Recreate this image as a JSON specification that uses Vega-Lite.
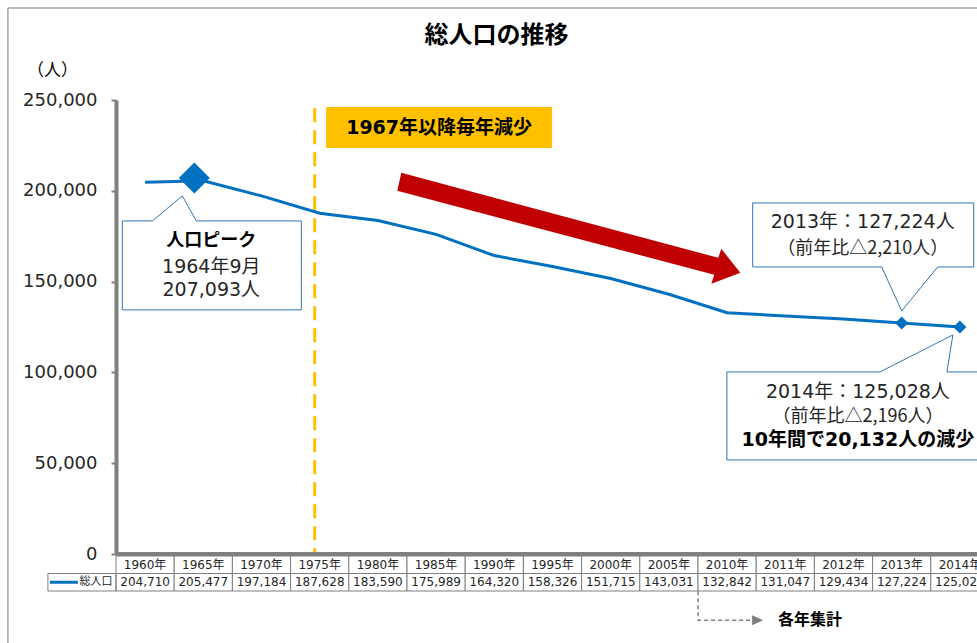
{
"$schema":"https://vega.github.io/schema/vega-lite/v6.json",
"autosize":{"type":"none"},
"width":861,"height":454,
"padding":{"left":116,"top":100,"right":0,"bottom":89},
"background":"white",
"title":{"text":"総人口の推移","font":"Noto Sans CJK JP","fontSize":24,"fontWeight":"bold","color":"#000000","anchor":"middle","frame":"group","dx":-50,"offset":-55,"baseline":"middle"},
"config":{"view":{"stroke":null},"font":"DejaVu Sans, Noto Sans CJK JP","numberFormat":",",
 "axisY":{"domainColor":"#7F7F7F","domainWidth":4,"tickColor":"#7F7F7F","tickSize":5,"tickWidth":2,"grid":false,"labelFontSize":18,"labelColor":"#262626","labelPadding":14,"labelFont":"DejaVu Sans","labelExpr":"format(datum.value, ',')","titleFont":"Noto Sans CJK JP","titleFontSize":17,"titleFontWeight":"normal","titleColor":"#000000"}},
"datasets":{"pop":[
 {"year":"1960年","pop":204710},{"year":"1965年","pop":205477},{"year":"1970年","pop":197184},{"year":"1975年","pop":187628},{"year":"1980年","pop":183590},{"year":"1985年","pop":175989},{"year":"1990年","pop":164320},{"year":"1995年","pop":158326},{"year":"2000年","pop":151715},{"year":"2005年","pop":143031},{"year":"2010年","pop":132842},{"year":"2011年","pop":131047},{"year":"2012年","pop":129434},{"year":"2013年","pop":127224},{"year":"2014年","pop":125028}
]},
"resolve":{"scale":{"y":"independent"}},
"layer":[
 {"layer":[
  {"data":{"values":[{}]},"mark":{"type":"point","shape":"M-79,-92 L1000,-92 M-79,-92 L-79,700","size":4,"filled":false,"stroke":"#A6A6A6","strokeWidth":1.5,"opacity":1},
   "encoding":{"x":{"datum":"凡例","type":"ordinal","scale":{"type":"band","domain":["凡例","1960年","1965年","1970年","1975年","1980年","1985年","1990年","1995年","2000年","2005年","2010年","2011年","2012年","2013年","2014年"],"range":[-58.2,873],"paddingInner":0,"paddingOuter":0},"axis":null},"y":{"datum":250000,"type":"quantitative"}}},
  {"data":{"values":[{}]},"mark":{"type":"rule","color":"#FFC000","strokeWidth":3,"strokeDash":[14,8],"xOffset":-5},
   "encoding":{"x":{"datum":"1975年","type":"ordinal","scale":{"type":"band","domain":["凡例","1960年","1965年","1970年","1975年","1980年","1985年","1990年","1995年","2000年","2005年","2010年","2011年","2012年","2013年","2014年"],"range":[-58.2,873],"paddingInner":0,"paddingOuter":0},"axis":null},"y":{"datum":245500,"type":"quantitative"},"y2":{"datum":0}}},
  {"data":{"values":[{}]},"mark":{"type":"rule","color":"#7F7F7F","strokeWidth":4},
   "encoding":{"y":{"datum":0,"type":"quantitative"}}},
  {"data":{"name":"pop"},"mark":{"type":"line","color":"#0070C0","strokeWidth":3},
   "encoding":{"x":{"field":"year","type":"ordinal","scale":{"type":"band","domain":["凡例","1960年","1965年","1970年","1975年","1980年","1985年","1990年","1995年","2000年","2005年","2010年","2011年","2012年","2013年","2014年"],"range":[-58.2,873],"paddingInner":0,"paddingOuter":0},"axis":null},
    "y":{"field":"pop","type":"quantitative","scale":{"domain":[0,250000],"nice":false},"axis":{"title":"（人）","titleAngle":0,"titleAlign":"center","titleBaseline":"middle","titleX":-64,"titleY":-30,"values":[0,50000,100000,150000,200000,250000],"format":",","labelExpr":"format(datum.value, ',')"}}}},
  {"data":{"values":[{}]},"mark":{"type":"point","shape":"M-72,43 L-42,43 L-12,18 L2,43 L107,43 L107,132 L-72,132 Z","size":4,"filled":true,"fill":"#FFFFFF","stroke":"#2E75B6","strokeWidth":1,"opacity":1,"xOffset":-9},
   "encoding":{"x":{"datum":"1965年","type":"ordinal","axis":null},"y":{"datum":207093,"type":"quantitative"}}},
  {"data":{"values":[{}]},"mark":{"type":"text","text":"人口ピーク","font":"Noto Sans CJK JP","fontSize":18,"fontWeight":"bold","color":"#000000","dx":8,"dy":63,"baseline":"middle"},
   "encoding":{"x":{"datum":"1965年","type":"ordinal","axis":null},"y":{"datum":207093,"type":"quantitative"}}},
  {"data":{"values":[{}]},"mark":{"type":"text","text":"1964年9月","fontSize":19,"color":"#262626","dx":8,"dy":89,"baseline":"middle"},
   "encoding":{"x":{"datum":"1965年","type":"ordinal","axis":null},"y":{"datum":207093,"type":"quantitative"}}},
  {"data":{"values":[{}]},"mark":{"type":"text","text":"207,093人","fontSize":19,"color":"#262626","dx":8,"dy":112,"baseline":"middle"},
   "encoding":{"x":{"datum":"1965年","type":"ordinal","axis":null},"y":{"datum":207093,"type":"quantitative"}}},
  {"data":{"values":[{}]},"mark":{"type":"point","shape":"M-149,-120 L72,-120 L72,-56 L36,-56 L0,-12 L-20,-56 L-149,-56 Z","size":4,"filled":true,"fill":"#FFFFFF","stroke":"#2E75B6","strokeWidth":1,"opacity":1},
   "encoding":{"x":{"datum":"2013年","type":"ordinal","axis":null},"y":{"datum":127224,"type":"quantitative"}}},
  {"data":{"values":[{}]},"mark":{"type":"text","text":"2013年：127,224人","fontSize":19,"color":"#262626","dx":-39,"dy":-101,"baseline":"middle"},
   "encoding":{"x":{"datum":"2013年","type":"ordinal","axis":null},"y":{"datum":127224,"type":"quantitative"}}},
  {"data":{"values":[{}]},"mark":{"type":"text","text":"（前年比△2,210人）","font":"Noto Sans CJK JP","fontSize":18,"color":"#262626","dx":-39,"dy":-74,"baseline":"middle"},
   "encoding":{"x":{"datum":"2013年","type":"ordinal","axis":null},"y":{"datum":127224,"type":"quantitative"}}},
  {"data":{"values":[{}]},"mark":{"type":"point","shape":"M-233,45 L-80,45 L-7,8 L-13,45 L29,45 L29,133 L-233,133 Z","size":4,"filled":true,"fill":"#FFFFFF","stroke":"#2E75B6","strokeWidth":1,"opacity":1},
   "encoding":{"x":{"datum":"2014年","type":"ordinal","axis":null},"y":{"datum":125028,"type":"quantitative"}}},
  {"data":{"values":[{}]},"mark":{"type":"text","text":"2014年：125,028人","fontSize":19,"color":"#262626","dx":-102,"dy":65,"baseline":"middle"},
   "encoding":{"x":{"datum":"2014年","type":"ordinal","axis":null},"y":{"datum":125028,"type":"quantitative"}}},
  {"data":{"values":[{}]},"mark":{"type":"text","text":"（前年比△2,196人）","font":"Noto Sans CJK JP","fontSize":18,"color":"#262626","dx":-102,"dy":90,"baseline":"middle"},
   "encoding":{"x":{"datum":"2014年","type":"ordinal","axis":null},"y":{"datum":125028,"type":"quantitative"}}},
  {"data":{"values":[{}]},"mark":{"type":"text","text":"10年間で20,132人の減少","fontSize":19,"fontWeight":"bold","color":"#000000","dx":-102,"dy":113,"baseline":"middle"},
   "encoding":{"x":{"datum":"2014年","type":"ordinal","axis":null},"y":{"datum":125028,"type":"quantitative"}}},
  {"data":{"values":[{}]},"mark":{"type":"point","shape":"M-110,-21 L116,-21 L116,20 L-110,20 Z","size":4,"filled":true,"fill":"#FFC000","strokeWidth":0,"opacity":1},
   "encoding":{"x":{"datum":"1985年","type":"ordinal","axis":null},"y":{"datum":234600,"type":"quantitative"}}},
  {"data":{"values":[{}]},"mark":{"type":"text","text":"1967年以降毎年減少","fontSize":19,"fontWeight":"bold","color":"#000000","dx":3,"baseline":"middle"},
   "encoding":{"x":{"datum":"1985年","type":"ordinal","axis":null},"y":{"datum":234600,"type":"quantitative"}}},
  {"data":{"values":[{}]},"mark":{"type":"point","shape":"M-93,-18 L224,67 L227,58 L246,82 L217,93 L220,84 L-97,0 Z","size":4,"filled":true,"fill":"#C00000","strokeWidth":0,"opacity":1},
   "encoding":{"x":{"datum":"1990年","type":"ordinal","axis":null},"y":{"datum":200000,"type":"quantitative"}}},
  {"data":{"name":"pop"},"transform":[{"filter":{"field":"year","oneOf":["2013年","2014年"]}}],"mark":{"type":"point","shape":"diamond","size":169,"filled":true,"color":"#0070C0","opacity":1},
   "encoding":{"x":{"field":"year","type":"ordinal","axis":null},"y":{"field":"pop","type":"quantitative"}}},
  {"data":{"values":[{}]},"mark":{"type":"point","shape":"diamond","size":961,"filled":true,"color":"#0070C0","opacity":1,"xOffset":-9},
   "encoding":{"x":{"datum":"1965年","type":"ordinal","axis":null},"y":{"datum":207093,"type":"quantitative"}}}
 ]},
 {"layer":[
  {"data":{"name":"pop"},"mark":{"type":"rect","fill":"#FFFFFF","stroke":"#7F7F7F","strokeWidth":1},
   "encoding":{"x":{"field":"year","type":"ordinal","axis":null},"y":{"datum":"年","type":"ordinal","scale":{"type":"band","domain":["年","値"],"range":[456,491],"paddingInner":0,"paddingOuter":0},"axis":null}}},
  {"data":{"name":"pop"},"mark":{"type":"rect","fill":"#FFFFFF","stroke":"#7F7F7F","strokeWidth":1},
   "encoding":{"x":{"field":"year","type":"ordinal","axis":null},"y":{"datum":"値","type":"ordinal","axis":null}}},
  {"data":{"name":"pop"},"mark":{"type":"text","fontSize":12,"color":"#262626","baseline":"middle"},
   "encoding":{"x":{"field":"year","type":"ordinal","axis":null},"y":{"datum":"年","type":"ordinal","axis":null},"text":{"field":"year"}}},
  {"data":{"name":"pop"},"mark":{"type":"text","fontSize":12,"color":"#262626","baseline":"middle"},
   "encoding":{"x":{"field":"year","type":"ordinal","axis":null},"y":{"datum":"値","type":"ordinal","axis":null},"text":{"field":"pop","type":"quantitative","format":","}}},
  {"data":{"values":[{}]},"mark":{"type":"point","shape":"M-39,-8.75 L29,-8.75 L29,8.75 L-39,8.75 Z","size":4,"filled":false,"stroke":"#7F7F7F","strokeWidth":1,"opacity":1},
   "encoding":{"x":{"datum":"凡例","type":"ordinal","axis":null},"y":{"datum":"値","type":"ordinal","axis":null}}},
  {"data":{"values":[{}]},"mark":{"type":"point","shape":"M-37,0 L-9,0","size":4,"filled":false,"stroke":"#0070C0","strokeWidth":3,"opacity":1},
   "encoding":{"x":{"datum":"凡例","type":"ordinal","axis":null},"y":{"datum":"値","type":"ordinal","axis":null}}},
  {"data":{"values":[{}]},"mark":{"type":"text","text":"総人口","font":"Noto Sans CJK JP","fontSize":11,"color":"#262626","dx":9,"baseline":"middle"},
   "encoding":{"x":{"datum":"凡例","type":"ordinal","axis":null},"y":{"datum":"値","type":"ordinal","axis":null}}},
  {"data":{"values":[{}]},"mark":{"type":"point","shape":"M-29,9 L-29,38 L25,38","size":4,"filled":false,"stroke":"#7F7F7F","strokeWidth":1.5,"strokeDash":[4,3],"opacity":1},
   "encoding":{"x":{"datum":"2010年","type":"ordinal","axis":null},"y":{"datum":"値","type":"ordinal","axis":null}}},
  {"data":{"values":[{}]},"mark":{"type":"point","shape":"M25,33 L36,38 L25,43 Z","size":4,"filled":true,"fill":"#7F7F7F","strokeWidth":0,"opacity":1},
   "encoding":{"x":{"datum":"2010年","type":"ordinal","axis":null},"y":{"datum":"値","type":"ordinal","axis":null}}},
  {"data":{"values":[{}]},"mark":{"type":"text","text":"各年集計","font":"Noto Sans CJK JP","fontSize":16,"fontWeight":"bold","color":"#000000","dx":83,"dy":38,"baseline":"middle"},
   "encoding":{"x":{"datum":"2010年","type":"ordinal","axis":null},"y":{"datum":"値","type":"ordinal","axis":null}}}
 ]}
]
}
